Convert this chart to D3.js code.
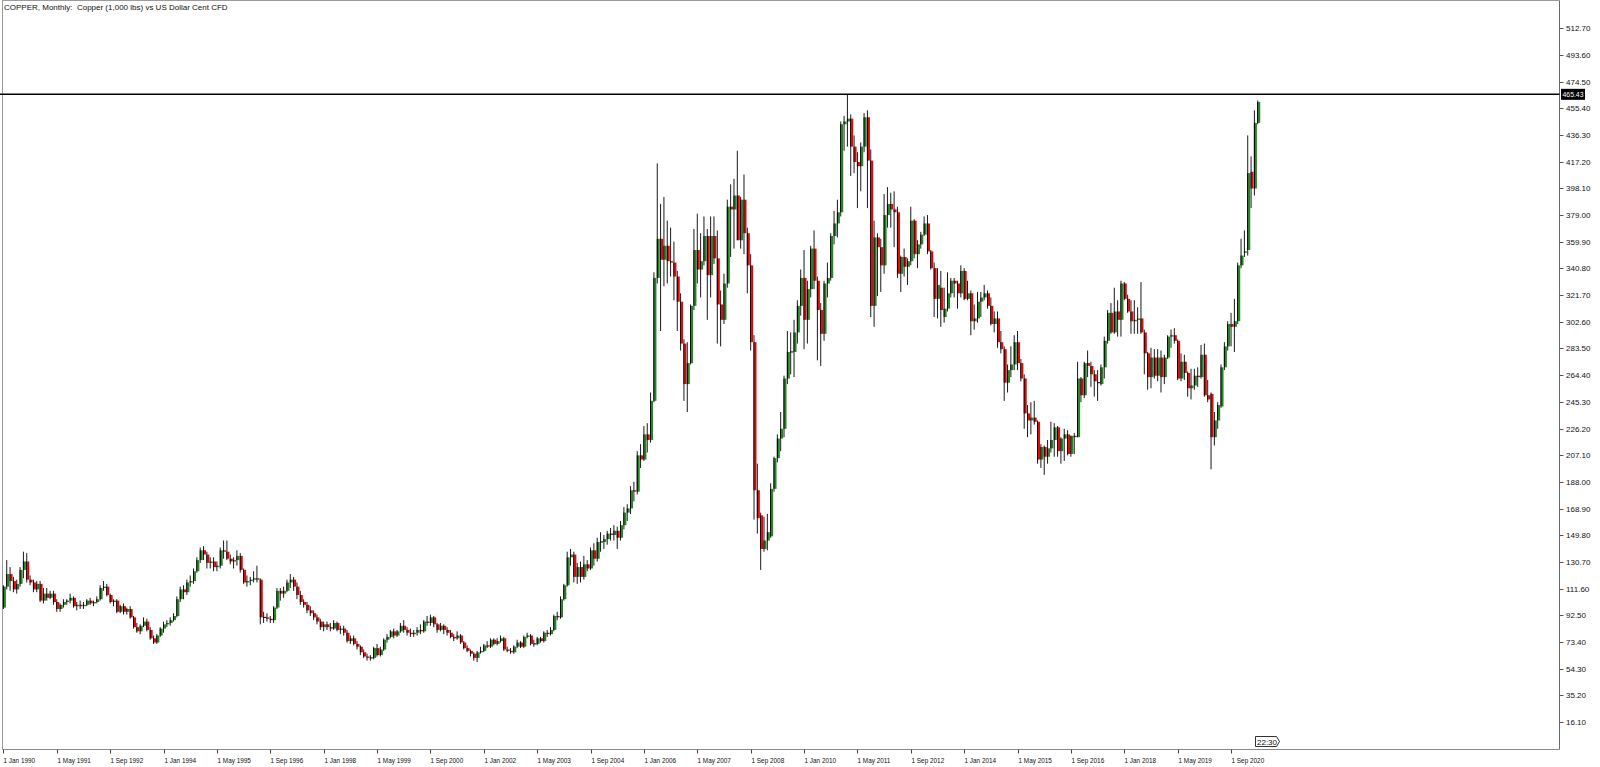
<!DOCTYPE html>
<html>
<head>
<meta charset="utf-8">
<script src="https://cdn.jsdelivr.net/npm/d3@7"></script>
<style>
html,body{margin:0;padding:0;background:#fff;overflow:hidden}
svg text{font-family:"Liberation Sans",Arial,sans-serif;}
</style>
</head>
<body>
<svg id="chart" width="1600" height="767"></svg>
<script>
// ---------- DATA (monthly OHLC, US cents / lb), rows: [open, high, low, close] ----------
const title = "COPPER, Monthly:  Copper (1,000 lbs) vs US Dollar Cent CFD";
const firstYear = 1990;
const d1990 = [[98,114,97,113],[113,132,111,122],[122,127,110,117],[117,120,109,111],[111,118,108,115],[115,127,113,125],[125,138,119,131],[131,137,116,118],[118,121,114,116],[116,118,109,111],[111,117,109,115],[115,117,102,103]];
const d1991 = [[103,112,101,108],[108,112,103,105],[105,110,104,108],[108,110,100,102],[102,104,95,97],[97,101,95,100],[100,104,98,102],[102,104,100,103],[103,108,101,105],[105,106,98,99],[99,102,96,100],[100,103,97,99]];
const d1992 = [[99,102,97,100],[100,104,99,103],[103,105,100,101],[101,103,99,102],[102,106,101,104],[104,114,103,112],[112,117,110,113],[113,115,106,107],[107,108,101,102],[102,104,99,103],[103,104,94,95],[95,100,94,99]];
const d1993 = [[99,101,93,95],[95,98,93,97],[97,99,90,91],[91,92,83,84],[84,87,80,81],[81,86,79,85],[85,91,84,88],[88,90,81,82],[82,84,75,76],[76,78,72,73],[73,79,72,78],[78,84,77,83]];
const d1994 = [[83,88,80,86],[86,89,84,87],[87,91,85,89],[89,94,88,92],[92,106,91,104],[104,113,102,111],[111,114,104,109],[109,118,107,116],[116,121,113,117],[117,126,115,124],[124,134,123,132],[132,141,130,139]];
const d1995 = [[139,142,132,136],[136,138,126,130],[130,134,126,131],[131,134,124,127],[127,131,124,128],[128,141,126,139],[139,146,133,138],[138,146,132,133],[133,136,129,131],[131,134,126,132],[132,139,128,135],[135,137,123,125]];
const d1996 = [[125,126,115,116],[116,121,113,117],[117,120,114,118],[118,124,116,119],[119,128,116,118],[118,119,86,91],[91,95,87,91],[91,94,88,90],[90,92,87,89],[89,99,87,98],[98,112,97,110],[110,112,103,108]];
const d1997 = [[108,113,105,110],[110,118,109,116],[116,122,112,118],[118,120,110,113],[113,116,104,107],[107,110,100,102],[102,104,98,100],[100,102,94,96],[96,99,92,94],[94,96,89,91],[91,93,86,88],[88,90,82,84]];
const d1998 = [[84,88,81,86],[86,88,82,84],[84,87,81,83],[83,89,82,87],[87,88,81,82],[82,85,79,83],[83,85,78,80],[80,82,73,74],[74,78,72,76],[76,78,71,72],[72,74,68,70],[70,71,64,66]];
const d1999 = [[66,68,62,63],[63,65,60,62],[62,64,60,62],[62,70,61,69],[69,72,63,64],[64,70,63,68],[68,76,67,75],[75,79,73,77],[77,82,76,81],[81,83,76,78],[78,82,77,81],[81,87,80,85]];
const d2000 = [[85,89,80,82],[82,84,78,80],[80,83,77,79],[79,82,77,80],[80,84,78,82],[82,86,79,81],[81,89,80,88],[88,92,85,87],[87,93,85,91],[91,92,84,86],[86,87,80,82],[82,87,81,85]];
const d2001 = [[85,86,79,82],[82,84,78,80],[80,82,76,77],[77,79,74,76],[76,81,75,78],[78,79,72,73],[73,74,68,69],[69,71,66,67],[67,68,63,65],[65,66,60,62],[62,67,59,66],[66,70,65,67]];
const d2002 = [[67,72,66,71],[71,74,69,70],[70,76,69,75],[75,76,71,72],[72,76,71,74],[74,78,73,76],[76,77,67,68],[68,70,66,67],[67,69,65,66],[66,71,65,70],[70,75,69,73],[73,74,69,70]];
const d2003 = [[70,78,69,77],[77,80,76,78],[78,79,71,72],[72,75,70,72],[72,77,71,76],[76,77,73,74],[74,81,73,80],[80,82,77,79],[79,84,78,82],[82,93,81,92],[92,95,89,91],[91,106,90,104]];
const d2004 = [[104,115,103,114],[114,138,113,134],[134,140,128,136],[136,138,116,120],[120,130,115,127],[127,131,116,120],[120,135,118,129],[129,132,124,126],[126,141,125,139],[139,144,128,133],[133,148,131,145],[145,152,138,145]];
const d2005 = [[145,150,140,147],[147,153,143,151],[151,155,146,150],[150,157,146,153],[153,156,140,148],[148,160,146,157],[157,170,154,166],[166,172,160,169],[169,185,165,182],[182,188,174,181],[181,210,179,207],[207,215,198,204]];
const d2006 = [[204,228,203,222],[222,230,209,218],[218,252,216,246],[246,338,245,334],[334,416,330,362],[362,387,296,347],[347,392,328,357],[357,375,330,346],[346,370,335,345],[345,360,318,335],[335,339,296,317],[317,323,282,287]];
const d2007 = [[287,290,246,258],[258,288,238,273],[273,315,272,314],[314,369,311,354],[354,380,330,340],[340,366,320,346],[346,378,343,364],[364,369,304,336],[336,378,320,364],[364,378,344,348],[348,368,287,315],[315,325,285,304]];
const d2008 = [[304,337,301,330],[330,390,327,385],[385,401,349,383],[383,405,355,393],[393,425,361,361],[361,392,355,390],[390,408,351,366],[366,370,323,343],[343,351,282,288],[288,293,161,182],[182,201,151,162],[164,166,125,140]];
const d2009 = [[140,163,138,146],[146,165,139,152],[149,187,148,183],[183,206,181,205],[205,222,202,219],[219,238,210,226],[226,264,220,262],[262,296,258,281],[281,295,265,281],[281,304,263,295],[295,318,287,314],[314,340,307,334]];
const d2010 = [[334,354,283,304],[304,332,287,326],[326,357,320,355],[355,368,326,332],[332,335,275,311],[311,316,271,294],[294,332,289,330],[330,345,320,334],[334,366,332,364],[364,382,358,373],[373,390,363,381],[381,446,378,444]];
const d2011 = [[444,450,425,446],[446,465,428,448],[448,451,407,428],[428,436,409,417],[417,424,384,414],[414,431,396,428],[428,452,424,449],[449,454,384,418],[418,426,306,314],[314,375,299,363],[363,366,321,356],[356,362,324,343]];
const d2012 = [[343,394,337,379],[379,399,370,387],[387,395,370,383],[383,396,356,381],[381,385,334,337],[337,350,324,349],[349,355,335,342],[342,348,329,346],[346,385,343,375],[375,376,348,351],[351,361,341,358],[358,367,355,365]];
const d2013 = [[365,378,364,373],[373,379,351,353],[353,354,340,341],[341,345,306,319],[319,341,305,329],[327,339,299,311],[306,327,302,312],[312,338,310,323],[323,334,320,332],[332,334,320,330],[330,332,312,323],[323,343,320,339]];
const d2014 = [[339,341,318,319],[319,332,318,323],[323,325,293,303],[303,315,297,305],[305,324,302,317],[317,324,306,320],[320,329,318,323],[323,325,312,314],[314,320,300,301],[301,310,295,305],[305,310,284,288],[288,296,280,283]];
const d2015 = [[283,285,246,259],[259,272,252,268],[268,285,263,272],[272,293,268,288],[288,296,268,273],[273,276,260,262],[262,265,226,237],[237,243,220,232],[232,245,222,234],[234,246,229,231],[231,232,201,204],[204,215,198,213]];
const d2016 = [[213,214,193,206],[206,218,201,212],[212,231,209,218],[218,230,206,227],[227,228,206,210],[210,220,201,219],[219,226,203,222],[222,225,207,208],[208,221,206,221],[221,223,208,220],[220,274,220,262],[262,263,245,250]];
const d2017 = [[250,274,248,273],[273,282,263,271],[271,274,256,265],[265,268,249,260],[259,268,246,259],[258,272,257,270],[270,292,262,289],[289,311,287,309],[309,316,294,295],[295,327,294,310],[310,318,292,304],[304,332,292,330]];
const d2018 = [[330,331,318,319],[319,322,309,310],[310,318,294,303],[303,318,294,304],[304,313,294,305],[305,331,294,295],[295,297,265,280],[280,281,254,263],[263,284,255,277],[277,283,262,264],[264,283,260,277],[277,282,252,263]];
const d2019 = [[263,279,258,277],[277,293,276,292],[292,297,284,293],[293,298,287,289],[289,290,261,262],[262,280,260,274],[274,279,261,266],[266,267,249,255],[255,269,247,257],[257,269,254,264],[264,270,256,263],[263,286,262,279]];
const d2020 = [[279,287,249,250],[250,261,245,247],[251,252,197,220],[220,238,214,232],[232,245,226,243],[242,272,241,270],[270,288,268,285],[285,303,282,301],[301,309,285,299],[299,319,281,303],[303,345,301,343],[343,362,341,350]];
const d2021 = [[352,368,349,353],[354,436,350,409],[410,421,384,398],[398,454,393,445],[445,461,444,460]];

const priceTickLabels = ["16.10","35.20","54.30","73.40","92.50","111.60","130.70","149.80","168.90","188.00","207.10","226.20","245.30","264.40","283.50","302.60","321.70","340.80","359.90","379.00","398.10","417.20","436.30","455.40","474.50","493.60","512.70"];
const timeTickLabels = ["1 Jan 1990","1 May 1991","1 Sep 1992","1 Jan 1994","1 May 1995","1 Sep 1996","1 Jan 1998","1 May 1999","1 Sep 2000","1 Jan 2002","1 May 2003","1 Sep 2004","1 Jan 2006","1 May 2007","1 Sep 2008","1 Jan 2010","1 May 2011","1 Sep 2012","1 Jan 2014","1 May 2015","1 Sep 2016","1 Jan 2018","1 May 2019","1 Sep 2020"];
const timeTickIndex = [0,16,32,48,64,80,96,112,128,144,160,176,192,208,224,240,256,272,288,304,320,336,352,368];
const horizontalLevel = 465.43;
const clockLabel = "22:30";

// ---------- BUILD ----------
const years = [d1990,d1991,d1992,d1993,d1994,d1995,d1996,d1997,d1998,d1999,d2000,d2001,d2002,d2003,d2004,d2005,d2006,d2007,d2008,d2009,d2010,d2011,d2012,d2013,d2014,d2015,d2016,d2017,d2018,d2019,d2020,d2021];
const candles = [];
years.forEach(rows => rows.forEach(r => candles.push({i: candles.length, o:r[0], h:r[1], l:r[2], c:r[3]})));

const svg = d3.select("#chart");
const plotL = 2.5, plotR = 1559.5, plotT = 0.5, plotB = 749.5;

const x = d3.scaleLinear().domain([0, candles.length - 1]).range([3.4, 3.4 + 3.336 * (candles.length - 1)]);
const y = d3.scaleLinear().domain([16.1, 512.7]).range([722, 28.3]);

svg.append("rect").attr("width",1600).attr("height",767).attr("fill","#fff");

// frame
svg.append("line").attr("x1",plotL).attr("x2",plotL).attr("y1",plotT).attr("y2",plotB).attr("stroke","#9a9a9a");
svg.append("line").attr("x1",plotL).attr("x2",plotR).attr("y1",plotT).attr("y2",plotT).attr("stroke","#9a9a9a");
svg.append("line").attr("x1",plotL).attr("x2",plotR).attr("y1",plotB).attr("y2",plotB).attr("stroke","#8a8a8a");
svg.append("line").attr("x1",plotR).attr("x2",plotR).attr("y1",plotT).attr("y2",plotB).attr("stroke","#6a6a6a");

// candles
const g = svg.append("g");
const bodyColor = d => d.c > d.o ? "#1f8a1f" : "#f00000";
g.selectAll("line.wick").data(candles).join("line")
  .attr("class","wick")
  .attr("x1", d => x(d.i)).attr("x2", d => x(d.i))
  .attr("y1", d => y(d.h)).attr("y2", d => y(d.l))
  .attr("stroke","#1a1a1a").attr("stroke-width",1);
const bodies = candles.filter(d => d.o !== d.c);
g.selectAll("rect.body").data(bodies).join("rect")
  .attr("class","body")
  .attr("x", d => x(d.i) + 0.5).attr("width", 2)
  .attr("y", d => y(Math.max(d.o,d.c)))
  .attr("height", d => Math.max(1, y(Math.min(d.o,d.c)) - y(Math.max(d.o,d.c))))
  .attr("fill", bodyColor);
g.selectAll("rect.edge").data(bodies).join("rect")
  .attr("class","edge")
  .attr("x", d => x(d.i) - 0.5).attr("width", 1)
  .attr("y", d => y(Math.max(d.o,d.c)))
  .attr("height", d => Math.max(1, y(Math.min(d.o,d.c)) - y(Math.max(d.o,d.c))))
  .attr("fill", "#000");
g.selectAll("line.doji").data(candles.filter(d => d.o === d.c)).join("line")
  .attr("class","doji")
  .attr("x1", d => x(d.i) - 0.5).attr("x2", d => x(d.i) + 2.5)
  .attr("y1", d => y(d.c)).attr("y2", d => y(d.c))
  .attr("stroke","#000").attr("stroke-width",1);

// horizontal level line
svg.append("line").attr("x1",0).attr("x2",plotR).attr("y1",y(horizontalLevel)).attr("y2",y(horizontalLevel))
  .attr("stroke","#000").attr("stroke-width",1.5);

// price axis
const priceAxis = svg.append("g");
priceTickLabels.forEach(lbl => {
  const v = +lbl;
  priceAxis.append("line").attr("x1",plotR).attr("x2",plotR+4).attr("y1",Math.round(y(v))+0.5).attr("y2",Math.round(y(v))+0.5).attr("stroke","#555");
  priceAxis.append("text").attr("x",1566).attr("y",y(v)+3).attr("font-size","8px").attr("fill","#111").text(lbl);
});
// level label
const ly = y(horizontalLevel);
svg.append("rect").attr("x",1561).attr("y",ly-5.5).attr("width",24).attr("height",11).attr("fill","#000");
svg.append("text").attr("x",1562.5).attr("y",ly+3).attr("font-size","8px").attr("fill","#fff")
  .attr("textLength",21).attr("lengthAdjust","spacingAndGlyphs").text(horizontalLevel.toFixed(2));

// time axis
const timeAxis = svg.append("g");
timeTickLabels.forEach((lbl, k) => {
  const tx = Math.round(x(timeTickIndex[k])) + 0.5;
  timeAxis.append("line").attr("x1",tx).attr("x2",tx).attr("y1",plotB).attr("y2",plotB+4).attr("stroke","#444");
  timeAxis.append("text").attr("transform",`translate(${tx},763) scale(0.8,1)`).attr("font-size","8px").attr("fill","#111").text(lbl);
});

// clock marker at last bar
const cx0 = Math.round(x(candles.length - 1)) - 2.5;
svg.append("path").attr("d",`M${cx0},736.5 H${cx0+21} L${cx0+24},741.5 L${cx0+21},746.5 H${cx0} Z`)
  .attr("fill","#fff").attr("stroke","#333").attr("stroke-width",1);
svg.append("text").attr("x",cx0+1.5).attr("y",744.5).attr("font-size","8px").attr("fill","#111").text(clockLabel);

// title
svg.append("text").attr("x",4).attr("y",10).attr("font-size","8px").attr("fill","#111")
  .attr("xml:space","preserve").style("white-space","pre").text(title);
</script>
</body>
</html>
